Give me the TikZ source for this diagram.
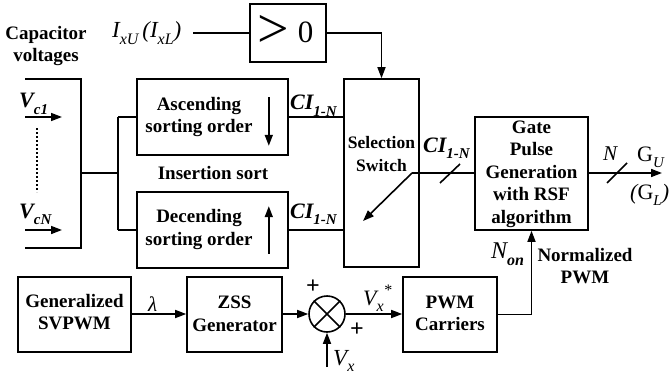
\documentclass[tikz,border=0pt]{standalone}
\usepackage{fontspec}
\setmainfont{Liberation Serif}
\usetikzlibrary{arrows.meta,calc}

% lowered subscript in a given size
\newcommand\lowtxt[2]{\raisebox{-0.3em}{\fontsize{#1}{#1}\selectfont #2}}
\newcommand\uptxt[2]{\raisebox{0.45em}{\fontsize{#1}{#1}\selectfont #2}}
\newcommand\cilabel{\fontsize{22}{22}\selectfont\bfseries\itshape CI\lowtxt{15}{1-N}}

\tikzset{
  blk/.style={draw, line width=1.6pt, inner sep=0pt},
  lbl/.style={font=\fontsize{19}{22.5}\selectfont\bfseries, align=center, inner sep=0pt},
  sym/.style={inner sep=0pt},
  wire/.style={line width=1.6pt},
  arr/.style={wire, -{Triangle[length=11pt,width=8pt]}},
}

\begin{document}
\begin{tikzpicture}[x=1pt,y=-1pt]
\useasboundingbox (0,0) rectangle (671,377);

% ---- blocks ----
\node[blk, minimum width=76pt, minimum height=58pt] (gt) at (288,33) {};
\node[sym, anchor=base west] (gtsym) at (257,43)
  {\raisebox{-5pt}{\fontsize{56}{56}\selectfont >}\hspace{9pt}{\fontsize{31}{31}\selectfont 0}};
\node[blk, minimum width=151pt, minimum height=76pt] (asc) at (212.5,117) {};
\node[blk, minimum width=151pt, minimum height=76pt] (desc) at (212.5,230) {};
\node[blk, minimum width=75pt, minimum height=188pt] (sel) at (381.5,173) {};
\node[blk, minimum width=113pt, minimum height=113pt] (gate) at (531.5,173.5) {};
\node[blk, minimum width=113pt, minimum height=75pt] (svp) at (74.5,314.5) {};
\node[blk, minimum width=95pt, minimum height=75pt] (zss) at (234.5,314.5) {};
\node[blk, minimum width=94pt, minimum height=75pt] (pwm) at (450,314.5) {};
\node[draw, circle, line width=1.6pt, minimum size=36pt, inner sep=0pt] (sum) at (327,314) {};
\draw[wire] (sum.north west) -- (sum.south east) (sum.north east) -- (sum.south west);

% ---- block texts ----
\node[lbl] (capt) at (46,46) {Capacitor\\voltages};
\node[lbl] (asct) at (199,117) {Ascending\\sorting order};
\node[lbl] (desct) at (199,229.5) {Decending\\sorting order};
\node[lbl] (inss) at (213,173) {Insertion sort};
\node[lbl, font=\fontsize{17.5}{22.5}\selectfont\bfseries] (selt) at (381.5,154) {Selection\\Switch};
\node[lbl] (gatet) at (531.5,174) {Gate\\Pulse\\Generation\\with RSF\\algorithm};
\node[lbl] (svpt) at (74.5,312) {Generalized\\SVPWM};
\node[lbl] (zsst) at (234.5,314) {ZSS\\Generator};
\node[lbl] (pwmt) at (450,313.5) {PWM\\Carriers};
\node[lbl] (normt) at (585,266) {Normalized\\PWM};

% direction arrows inside the sorting blocks
\draw[arr] ($(asc.north east)+(-20,19)$) -- ($(asc.south east)+(-20,-10)$);
\draw[arr] ($(desc.south east)+(-20,-15)$) -- ($(desc.north east)+(-20,15)$);

% ---- capacitor voltage bus ----
\coordinate (bt) at (25,79);
\coordinate (btr) at (81,79);
\coordinate (bbr) at (81,248);
\coordinate (bb) at (25,248);
\coordinate (bmid) at (81,173);
\coordinate (jm) at (118,173);
\coordinate (jt) at (118,117);
\coordinate (jb) at (118,230);
\draw[wire] (bt) -- (btr) -- (bbr) -- (bb);
\draw[wire] (bmid) -- (jm);
\draw[wire] (jt) -- (jb);
\draw[wire] (jt) -- (asc.west);
\draw[wire] (jb) -- (desc.west);

\coordinate (v1s) at (25,117);
\coordinate (v1e) at (62,117);
\coordinate (vNs) at (25,230);
\coordinate (vNe) at (62,230);
\draw[arr] (v1s) -- (v1e);
\draw[arr] (vNs) -- (vNe);
\coordinate (dt) at (37,128);
\coordinate (db) at (37,192);
\draw[line width=1.6pt, dash pattern=on 1.8pt off 2.2pt] (dt) -- (db);
\node[sym, anchor=base west] (vc1) at (19,108)
  {\fontsize{22}{22}\selectfont\bfseries\itshape V\lowtxt{15}{c1}};
\node[sym, anchor=base west] (vcN) at (19,218)
  {\fontsize{22}{22}\selectfont\bfseries\itshape V\lowtxt{15}{cN}};

% ---- current sign detection ----
\node[sym, anchor=base west] (ixu) at (112,38)
  {\fontsize{23}{23}\selectfont\itshape I\lowtxt{16}{xU}\,(I\lowtxt{16}{xL})};
\coordinate (ixe) at (193,33);
\draw[wire] (ixe) -- (gt.west);
\coordinate (gtc) at (381.5,33);
\draw[arr] (gt.east) -- (gtc) -- (sel.north);

% ---- sorted index lists ----
\draw[wire] (asc.east) -- (asc.east -| sel.west);
\draw[wire] (desc.east) -- (desc.east -| sel.west);
\node[sym, anchor=base west] (ci1) at (290,110) {\cilabel};
\node[sym, anchor=base west] (ci2) at (290,218) {\cilabel};

% switch contact and output bus
\coordinate (swp) at (412,173);
\coordinate (swe) at (363,221);
\draw[arr] (swp) -- (swe);
\draw[wire] (swp) -- (swp -| gate.west);
\node[sym, anchor=base west] (ci3) at (423,152) {\cilabel};
\coordinate (sl1a) at (440,183);
\coordinate (sl1b) at (460,164);
\draw[wire] (sl1a) -- (sl1b);

% ---- gate signal output ----
\coordinate (gout) at (662,173);
\draw[arr] (gate.east |- swp) -- (gout);
\coordinate (sl2a) at (607,183);
\coordinate (sl2b) at (627,163);
\draw[wire] (sl2a) -- (sl2b);
\node[sym, anchor=base west] (nout) at (603,160) {\fontsize{21}{21}\selectfont\itshape N};
\node[sym, anchor=base west] (gu) at (637,161) {\fontsize{22}{22}\selectfont G\lowtxt{15}{\itshape U}};
\node[sym, anchor=base west] (gl) at (630,199) {\fontsize{22}{22}\selectfont\itshape (\upshape G\lowtxt{15}{\itshape L}\itshape )};

% ---- modulation chain ----
\draw[arr] (svp.east |- 0,314) -- (zss.west |- 0,314);
\node[sym, anchor=base west] (lam) at (148,311) {\fontsize{21}{21}\selectfont\itshape λ};
\draw[arr] (zss.east |- sum.west) -- (sum.west);
\draw[arr] (sum.east) -- (pwm.west |- sum.east);
\coordinate (vxs) at (327,367);
\draw[arr] (vxs) -- (sum.south);
\node[sym, anchor=base west] (vx) at (333,365) {\fontsize{23}{23}\selectfont\itshape V\lowtxt{16}{x}};
\node[sym, anchor=base west] (vxr) at (363,305) {\fontsize{22}{22}\selectfont\itshape V\lowtxt{16}{x}\uptxt{16}{*}};
\node[sym] (p1) at (313,287) {\fontsize{24}{24}\selectfont\bfseries +};
\node[sym] (p2) at (357,330) {\fontsize{24}{24}\selectfont\bfseries +};

\coordinate (pc) at (531.5,314.5);
\draw[arr] (pwm.east) -- (pc) -- (gate.south);
\node[sym, anchor=base west] (non) at (491,258)
  {\fontsize{24}{24}\selectfont\itshape N\lowtxt{16}{\bfseries on}};
\end{tikzpicture}
\end{document}
